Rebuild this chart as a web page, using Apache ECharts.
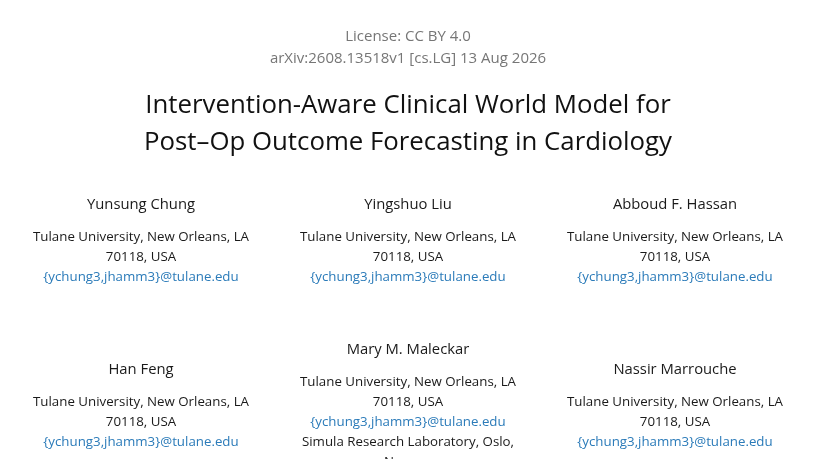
<!DOCTYPE html>
<html>
<head>
<meta charset="utf-8">
<script src="https://cdn.jsdelivr.net/npm/echarts@6/dist/echarts.min.js"></script>
<style>
html,body{margin:0;padding:0;background:#fff;}
#c{width:816px;height:459px;}
</style>
</head>
<body>
<div id="c"></div>
<script>
var headerLines = ["License: CC BY 4.0", "arXiv:2608.13518v1 [cs.LG] 13 Aug 2026"];
var titleLines = ["Intervention-Aware Clinical World Model for", "Post\u2013Op Outcome Forecasting in Cardiology"];
var authorNames = ["Yunsung Chung", "Yingshuo Liu", "Abboud F. Hassan", "Han Feng", "Mary M. Maleckar", "Nassir Marrouche"];
var affilLines = ["Tulane University, New Orleans, LA", "70118, USA"];
var emailText = "{ychung3,jhamm3}@tulane.edu";
var extraAffil = { 4: ["Simula Research Laboratory, Oslo,", "Norway"] };

var FONT = "'Open Sans', 'Noto Sans', sans-serif";
var colX = [141, 408, 675];
var nameY = [205, 205, 205, 370, 350, 370];

var chart = echarts.init(document.getElementById('c'), null, {renderer: 'canvas'});
var els = [];
function txt(s, x, y, size, color) {
  els.push({type: 'text', x: x, y: y, style: {text: s, fill: color, font: size + 'px ' + FONT, textAlign: 'center', textVerticalAlign: 'middle'}});
}
headerLines.forEach(function (s, i) { txt(s, 408, 37 + i * 22, 15, '#767676'); });
titleLines.forEach(function (s, i) { txt(s, 408, 106 + i * 37, 25.8, '#111'); });
authorNames.forEach(function (n, i) {
  var x = colX[i % 3], y = nameY[i];
  txt(n, x, y, 14.8, '#1a1a1a');
  var yy = y + 32;
  affilLines.forEach(function (a) { txt(a, x, yy, 13.3, '#1a1a1a'); yy += 20; });
  txt(emailText, x, yy, 13.3, '#2b7bb9'); yy += 20;
  (extraAffil[i] || []).forEach(function (a) { txt(a, x, yy, 13.3, '#1a1a1a'); yy += 20; });
});
chart.setOption({backgroundColor: '#fff', graphic: {elements: els}});
</script>
</body>
</html>
